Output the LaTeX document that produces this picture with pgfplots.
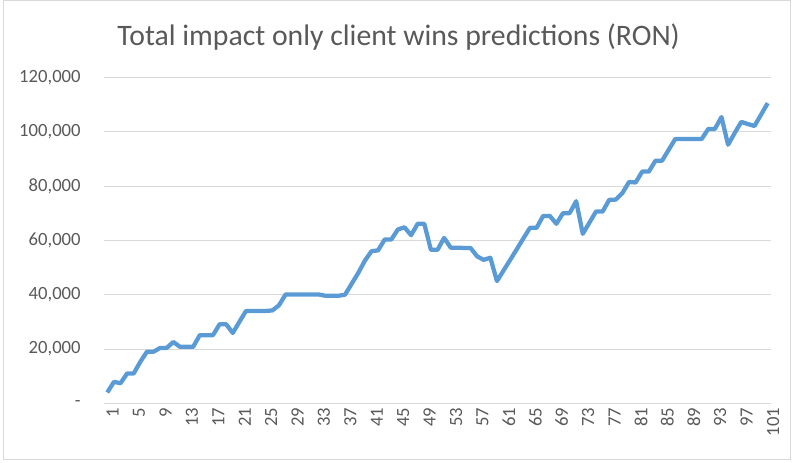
\documentclass[border=0pt]{standalone}
\usepackage{pgfplots}
\pgfplotsset{compat=1.18}
\usepackage{fontspec}
\setmainfont{Carlito}
\definecolor{linec}{HTML}{5B9BD5}
\definecolor{txt}{HTML}{595959}
\definecolor{grid}{HTML}{D9D9D9}
\begin{document}
\begin{tikzpicture}
\path[use as bounding box] (0,0) rectangle (596.25pt,346.5pt);
\draw[grid, line width=0.75pt] (2.25pt,2.25pt) rectangle (593pt,346pt);
\node[txt, font=\fontsize{22.3}{26}\selectfont] at (299pt,319pt) {Total impact only client wins predictions (RON)};
\begin{axis}[
  at={(78pt,44pt)}, anchor=south west,
  scale only axis, width=500.25pt, height=244.5pt,
  xmin=0.5, xmax=101.5, ymin=0, ymax=120000,
  axis line style={draw=none},
  ytick={0,20000,...,120000},
  yticklabels={-,{20,000},{40,000},{60,000},{80,000},{100,000},{120,000}},
  xtick={1,5,...,101},
  /pgf/number format/assume math mode=true,
  xmajorgrids=false, ymajorgrids=true,
  y grid style={grid, line width=0.75pt},
  major tick style={draw=none},
  major tick length=0pt,
  tick label style={txt, font=\fontsize{14}{16}\selectfont},
  yticklabel style={xshift=-14pt},
  xticklabel style={rotate=90, anchor=east, yshift=-4pt},
  scaled y ticks=false,
  clip=false,
]
\draw[grid, line width=0.75pt] (axis cs:0.5,0) -- (axis cs:101.5,0);
\addplot[linec, line width=3.2pt, line join=round, no marks] coordinates {
(1,4000)(2,7900)(3,7400)(4,11000)(5,11000)(6,15300)(7,19000)(8,19000)(9,20400)(10,20400)
(11,22600)(12,20800)(13,20800)(14,20800)(15,25100)(16,25100)(17,25100)(18,29100)(19,29100)(20,25900)
(21,30000)(22,34000)(23,34000)(24,34000)(25,34000)(26,34200)(27,36100)(28,40100)(29,40100)(30,40100)
(31,40100)(32,40100)(33,40100)(34,39600)(35,39600)(36,39600)(37,40000)(38,44000)(39,48000)(40,52500)
(41,56000)(42,56300)(43,60300)(44,60300)(45,64000)(46,64800)(47,61900)(48,66100)(49,66100)(50,56500)
(51,56500)(52,60900)(53,57300)(54,57300)(55,57200)(56,57200)(57,54100)(58,52800)(59,53600)(60,45000)
(61,48900)(62,52800)(63,56700)(64,60700)(65,64600)(66,64600)(67,69000)(68,69000)(69,66100)(70,70000)
(71,70000)(72,74400)(73,62400)(74,66500)(75,70600)(76,70600)(77,74900)(78,75000)(79,77400)(80,81500)
(81,81300)(82,85300)(83,85300)(84,89300)(85,89300)(86,93300)(87,97300)(88,97300)(89,97300)(90,97300)
(91,97300)(92,101000)(93,101000)(94,105400)(95,95200)(96,99500)(97,103600)(98,102800)(99,102100)(100,106300)
(101,110500)
};
\end{axis}
\end{tikzpicture}
\end{document}
